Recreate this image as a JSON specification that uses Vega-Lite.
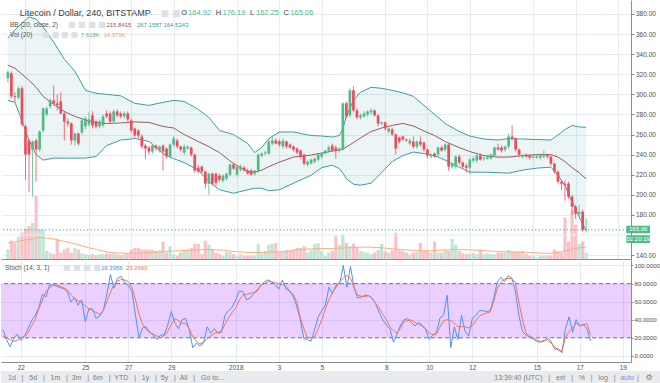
{
"$schema":"https://vega.github.io/schema/vega-lite/v6.json",
"padding":0,"spacing":0,"background":"white",
"config":{"font":"Liberation Sans","view":{"stroke":null},
"axis":{"labelFont":"Liberation Sans","labelFontSize":6.5,"labelColor":"#4d4d4d","gridColor":"#e6edf2","domainColor":"#8c8c8c","tickColor":"#8c8c8c","title":null,"labelOverlap":false,"tickCount":30},
"text":{"font":"Liberation Sans","fontSize":6.2,"align":"left","baseline":"middle"}},
"datasets":{
"c":[
{"i":0,"o":316,"h":324,"l":312,"c":322,"v":12,"k":29,"d":22},
{"i":1,"o":321,"h":323,"l":296,"c":298,"v":23,"k":18,"d":20},
{"i":2,"o":298,"h":302,"l":292,"c":297,"v":20,"k":10,"d":18},
{"i":3,"o":297,"h":308,"l":295,"c":306,"v":28,"k":19,"d":16},
{"i":4,"o":306,"h":308,"l":268,"c":270,"v":33,"k":24,"d":17},
{"i":5,"o":268,"h":270,"l":215,"c":240,"v":38,"k":17,"d":20},
{"i":6,"o":254,"h":256,"l":203,"c":240,"v":41,"k":21.5,"d":22},
{"i":7,"o":245,"h":254,"l":198,"c":253,"v":45,"k":30,"d":25},
{"i":8,"o":254,"h":256,"l":213,"c":245,"v":79,"k":39,"d":33},
{"i":9,"o":245,"h":264,"l":243,"c":263,"v":37,"k":45,"d":40},
{"i":10,"o":264,"h":287,"l":262,"c":286,"v":37,"k":53,"d":52},
{"i":11,"o":280,"h":288,"l":278,"c":286,"v":10,"k":68,"d":61},
{"i":12,"o":288,"h":296,"l":286,"c":294,"v":8,"k":65,"d":71},
{"i":13,"o":294,"h":309,"l":289,"c":291,"v":6,"k":78.5,"d":75},
{"i":14,"o":291,"h":300,"l":284,"c":289,"v":25,"k":78.5,"d":78},
{"i":15,"o":293,"h":302,"l":280,"c":281,"v":8,"k":77,"d":78.5},
{"i":16,"o":281,"h":283,"l":254,"c":273,"v":12,"k":75.5,"d":77},
{"i":17,"o":273,"h":276,"l":268,"c":271,"v":14,"k":74.5,"d":75},
{"i":18,"o":271,"h":272,"l":250,"c":254,"v":8,"k":71,"d":72.5},
{"i":19,"o":254,"h":262,"l":249,"c":261,"v":14,"k":59.6,"d":68},
{"i":20,"o":261,"h":262,"l":249,"c":251,"v":12,"k":64.5,"d":63},
{"i":21,"o":262,"h":276,"l":260,"c":274,"v":7,"k":56,"d":61},
{"i":22,"o":268,"h":278,"l":265,"c":276,"v":6,"k":62,"d":59},
{"i":23,"o":270,"h":282,"l":268,"c":275,"v":5,"k":38,"d":55},
{"i":24,"o":279,"h":283,"l":266,"c":269,"v":6,"k":52,"d":52},
{"i":25,"o":273,"h":275,"l":266,"c":268,"v":5,"k":52,"d":50},
{"i":26,"o":268,"h":275,"l":266,"c":273,"v":6,"k":41.5,"d":48},
{"i":27,"o":269,"h":280,"l":267,"c":278,"v":6,"k":44,"d":46},
{"i":28,"o":281,"h":284,"l":276,"c":278,"v":7,"k":50,"d":50},
{"i":29,"o":281,"h":283,"l":271,"c":273,"v":6,"k":68,"d":60},
{"i":30,"o":273,"h":285,"l":272,"c":283,"v":7,"k":90,"d":70},
{"i":31,"o":283,"h":285,"l":277,"c":279,"v":6,"k":75,"d":79},
{"i":32,"o":281,"h":283,"l":276,"c":278,"v":5,"k":86,"d":83},
{"i":33,"o":278,"h":283,"l":276,"c":281,"v":6,"k":88,"d":84.4},
{"i":34,"o":281,"h":283,"l":273,"c":275,"v":7,"k":81,"d":84},
{"i":35,"o":274,"h":276,"l":262,"c":264,"v":12,"k":78,"d":82},
{"i":36,"o":266,"h":267,"l":257,"c":259,"v":14,"k":72,"d":76},
{"i":37,"o":264,"h":265,"l":256,"c":259,"v":14,"k":45,"d":62},
{"i":38,"o":258,"h":260,"l":246,"c":248,"v":12,"k":20,"d":46},
{"i":39,"o":249,"h":251,"l":236,"c":246,"v":12,"k":31,"d":35},
{"i":40,"o":247,"h":249,"l":240,"c":243,"v":12,"k":32,"d":29},
{"i":41,"o":243,"h":251,"l":241,"c":249,"v":12,"k":26,"d":26},
{"i":42,"o":249,"h":250,"l":244,"c":246,"v":10,"k":23,"d":24},
{"i":43,"o":244,"h":249,"l":242,"c":248,"v":11,"k":18,"d":22},
{"i":44,"o":249,"h":250,"l":224,"c":243,"v":22,"k":23,"d":20},
{"i":45,"o":246,"h":247,"l":236,"c":238,"v":8,"k":23,"d":22},
{"i":46,"o":238,"h":251,"l":236,"c":250,"v":16,"k":34,"d":27},
{"i":47,"o":250,"h":258,"l":248,"c":256,"v":6,"k":49,"d":35},
{"i":48,"o":254,"h":256,"l":246,"c":248,"v":4,"k":36,"d":41},
{"i":49,"o":248,"h":249,"l":243,"c":245,"v":8,"k":30,"d":39},
{"i":50,"o":242,"h":250,"l":240,"c":248,"v":10,"k":40,"d":36},
{"i":51,"o":246,"h":249,"l":245,"c":248,"v":12,"k":41.5,"d":36},
{"i":52,"o":247,"h":248,"l":238,"c":240,"v":14,"k":29,"d":30},
{"i":53,"o":240,"h":241,"l":222,"c":224,"v":19,"k":9,"d":21},
{"i":54,"o":227,"h":230,"l":221,"c":223,"v":19,"k":14,"d":16},
{"i":55,"o":228,"h":229,"l":221,"c":223,"v":6,"k":11,"d":13},
{"i":56,"o":223,"h":224,"l":206,"c":211,"v":23,"k":14,"d":15},
{"i":57,"o":211,"h":222,"l":200,"c":221,"v":18,"k":32,"d":19},
{"i":58,"o":221,"h":222,"l":209,"c":211,"v":12,"k":25,"d":22},
{"i":59,"o":221,"h":222,"l":209,"c":212,"v":8,"k":30,"d":25},
{"i":60,"o":219,"h":221,"l":213,"c":215,"v":6,"k":25,"d":26},
{"i":61,"o":214,"h":220,"l":212,"c":219,"v":4,"k":26,"d":27},
{"i":62,"o":216,"h":222,"l":214,"c":221,"v":9,"k":45,"d":35},
{"i":63,"o":220,"h":231,"l":218,"c":230,"v":9,"k":50,"d":42},
{"i":64,"o":230,"h":232,"l":225,"c":226,"v":6,"k":54,"d":48},
{"i":65,"o":220,"h":229,"l":218,"c":228,"v":4,"k":62,"d":53},
{"i":66,"o":225,"h":230,"l":223,"c":228,"v":6,"k":72,"d":62},
{"i":67,"o":227,"h":229,"l":223,"c":224,"v":4,"k":71,"d":67},
{"i":68,"o":224,"h":226,"l":220,"c":221,"v":4,"k":62,"d":68},
{"i":69,"o":224,"h":226,"l":219,"c":220,"v":4,"k":64,"d":69},
{"i":70,"o":221,"h":225,"l":219,"c":224,"v":4,"k":69,"d":70},
{"i":71,"o":224,"h":241,"l":222,"c":240,"v":19,"k":72,"d":73},
{"i":72,"o":239,"h":242,"l":237,"c":241,"v":8,"k":78,"d":78},
{"i":73,"o":241,"h":244,"l":239,"c":242,"v":10,"k":82,"d":80},
{"i":74,"o":241,"h":255,"l":240,"c":253,"v":18,"k":84,"d":82},
{"i":75,"o":251,"h":258,"l":249,"c":254,"v":19,"k":82,"d":82},
{"i":76,"o":254,"h":256,"l":250,"c":251,"v":20,"k":78.5,"d":81},
{"i":77,"o":253,"h":255,"l":248,"c":250,"v":9,"k":74,"d":80},
{"i":78,"o":248,"h":256,"l":246,"c":254,"v":10,"k":84,"d":79},
{"i":79,"o":253,"h":254,"l":246,"c":248,"v":11,"k":74,"d":77},
{"i":80,"o":250,"h":251,"l":246,"c":247,"v":10,"k":71.5,"d":72},
{"i":81,"o":248,"h":249,"l":243,"c":245,"v":12,"k":66,"d":68},
{"i":82,"o":246,"h":247,"l":240,"c":242,"v":14,"k":55,"d":60},
{"i":83,"o":244,"h":245,"l":236,"c":238,"v":14,"k":40,"d":42},
{"i":84,"o":240,"h":241,"l":229,"c":231,"v":16,"k":19,"d":30},
{"i":85,"o":230,"h":234,"l":228,"c":233,"v":8,"k":18,"d":20},
{"i":86,"o":231,"h":236,"l":230,"c":235,"v":11,"k":16,"d":20},
{"i":87,"o":233,"h":237,"l":231,"c":236,"v":19,"k":29,"d":21},
{"i":88,"o":235,"h":241,"l":233,"c":240,"v":20,"k":43,"d":30},
{"i":89,"o":238,"h":242,"l":236,"c":241,"v":10,"k":50,"d":40},
{"i":90,"o":241,"h":245,"l":240,"c":244,"v":4,"k":56,"d":52},
{"i":91,"o":244,"h":249,"l":242,"c":247,"v":8,"k":76,"d":62},
{"i":92,"o":249,"h":251,"l":243,"c":244,"v":10,"k":69,"d":70},
{"i":93,"o":247,"h":249,"l":236,"c":244,"v":29,"k":78,"d":76},
{"i":94,"o":244,"h":247,"l":242,"c":246,"v":18,"k":80,"d":82},
{"i":95,"o":245,"h":292,"l":244,"c":291,"v":31,"k":100,"d":86},
{"i":96,"o":291,"h":293,"l":276,"c":278,"v":20,"k":76,"d":89},
{"i":97,"o":279,"h":306,"l":277,"c":304,"v":16,"k":99,"d":86},
{"i":98,"o":304,"h":308,"l":282,"c":284,"v":19,"k":76,"d":75},
{"i":99,"o":284,"h":286,"l":275,"c":277,"v":14,"k":64,"d":67},
{"i":100,"o":277,"h":281,"l":275,"c":279,"v":10,"k":65,"d":66},
{"i":101,"o":278,"h":283,"l":277,"c":281,"v":9,"k":67,"d":65.5},
{"i":102,"o":280,"h":284,"l":278,"c":283,"v":8,"k":66.9,"d":66.5},
{"i":103,"o":282,"h":286,"l":280,"c":284,"v":6,"k":64,"d":64},
{"i":104,"o":284,"h":285,"l":278,"c":279,"v":8,"k":58,"d":58},
{"i":105,"o":279,"h":280,"l":268,"c":271,"v":11,"k":48,"d":53},
{"i":106,"o":271,"h":273,"l":269,"c":272,"v":19,"k":40,"d":46},
{"i":107,"o":272,"h":273,"l":264,"c":266,"v":10,"k":34,"d":40},
{"i":108,"o":263,"h":267,"l":261,"c":266,"v":8,"k":30,"d":32},
{"i":109,"o":265,"h":267,"l":259,"c":260,"v":11,"k":15,"d":28},
{"i":110,"o":260,"h":261,"l":240,"c":246,"v":33,"k":24,"d":25},
{"i":111,"o":257,"h":258,"l":251,"c":253,"v":12,"k":34,"d":31},
{"i":112,"o":258,"h":259,"l":254,"c":255,"v":10,"k":40,"d":37.8},
{"i":113,"o":255,"h":256,"l":253,"c":254,"v":8,"k":41,"d":39},
{"i":114,"o":251,"h":256,"l":249,"c":254,"v":6,"k":37,"d":39.6},
{"i":115,"o":253,"h":258,"l":246,"c":248,"v":8,"k":33,"d":37},
{"i":116,"o":248,"h":254,"l":246,"c":253,"v":9,"k":37,"d":35},
{"i":117,"o":253,"h":258,"l":248,"c":250,"v":20,"k":34,"d":33},
{"i":118,"o":252,"h":253,"l":243,"c":245,"v":11,"k":29,"d":30},
{"i":119,"o":245,"h":246,"l":236,"c":239,"v":10,"k":18,"d":25},
{"i":120,"o":238,"h":241,"l":236,"c":240,"v":8,"k":23,"d":23.5},
{"i":121,"o":241,"h":242,"l":237,"c":238,"v":22,"k":26,"d":24},
{"i":122,"o":240,"h":248,"l":238,"c":247,"v":8,"k":42,"d":32},
{"i":123,"o":247,"h":249,"l":243,"c":244,"v":8,"k":45,"d":39},
{"i":124,"o":245,"h":251,"l":243,"c":250,"v":12,"k":67,"d":40},
{"i":125,"o":250,"h":251,"l":224,"c":228,"v":10,"k":9,"d":39},
{"i":126,"o":228,"h":232,"l":226,"c":231,"v":25,"k":32,"d":36},
{"i":127,"o":228,"h":239,"l":226,"c":238,"v":18,"k":18,"d":32.4},
{"i":128,"o":238,"h":240,"l":230,"c":232,"v":10,"k":45,"d":32.4},
{"i":129,"o":232,"h":233,"l":226,"c":228,"v":7,"k":27,"d":32},
{"i":130,"o":229,"h":231,"l":222,"c":227,"v":6,"k":22,"d":31},
{"i":131,"o":227,"h":237,"l":220,"c":235,"v":7,"k":41,"d":33},
{"i":132,"o":234,"h":238,"l":232,"c":236,"v":8,"k":45,"d":39},
{"i":133,"o":234,"h":240,"l":232,"c":239,"v":6,"k":50,"d":44},
{"i":134,"o":239,"h":241,"l":234,"c":235,"v":12,"k":50,"d":46},
{"i":135,"o":236,"h":238,"l":234,"c":237,"v":6,"k":49,"d":47.5},
{"i":136,"o":236,"h":239,"l":235,"c":238,"v":7,"k":50,"d":48.5},
{"i":137,"o":236,"h":241,"l":235,"c":240,"v":6,"k":64,"d":60},
{"i":138,"o":239,"h":248,"l":238,"c":247,"v":6,"k":82,"d":75},
{"i":139,"o":247,"h":251,"l":244,"c":245,"v":8,"k":87,"d":81},
{"i":140,"o":247,"h":249,"l":242,"c":244,"v":8,"k":82,"d":85},
{"i":141,"o":245,"h":249,"l":243,"c":248,"v":8,"k":88.7,"d":85.5},
{"i":142,"o":248,"h":261,"l":246,"c":258,"v":11,"k":86,"d":86},
{"i":143,"o":258,"h":269,"l":254,"c":256,"v":9,"k":72,"d":81},
{"i":144,"o":256,"h":257,"l":243,"c":245,"v":9,"k":45,"d":60},
{"i":145,"o":245,"h":246,"l":238,"c":240,"v":9,"k":27,"d":40},
{"i":146,"o":238,"h":241,"l":236,"c":239,"v":10,"k":23,"d":25},
{"i":147,"o":240,"h":241,"l":237,"c":238,"v":6,"k":20.5,"d":22},
{"i":148,"o":239,"h":240,"l":235,"c":237,"v":4,"k":18.5,"d":20},
{"i":149,"o":237,"h":240,"l":236,"c":238,"v":4,"k":16,"d":17.5},
{"i":150,"o":237,"h":240,"l":236,"c":238.5,"v":2,"k":15,"d":16},
{"i":151,"o":237,"h":241,"l":235,"c":239,"v":4,"k":16,"d":17},
{"i":152,"o":238,"h":244,"l":236,"c":240,"v":4,"k":19.7,"d":17.8},
{"i":153,"o":240,"h":241,"l":236,"c":238,"v":4,"k":16,"d":14},
{"i":154,"o":238,"h":239,"l":229,"c":231,"v":4,"k":7,"d":10},
{"i":155,"o":231,"h":232,"l":221,"c":223,"v":12,"k":8,"d":6},
{"i":156,"o":223,"h":224,"l":211,"c":213,"v":10,"k":3.3,"d":5},
{"i":157,"o":213,"h":215,"l":205,"c":211,"v":8,"k":30,"d":20},
{"i":158,"o":211,"h":214,"l":194,"c":210,"v":52,"k":43,"d":27},
{"i":159,"o":211,"h":213,"l":196,"c":198,"v":22,"k":26,"d":31},
{"i":160,"o":198,"h":200,"l":180,"c":188,"v":61,"k":40,"d":36},
{"i":161,"o":188,"h":190,"l":176,"c":181,"v":43,"k":33,"d":33},
{"i":162,"o":181,"h":190,"l":178,"c":183,"v":19,"k":35,"d":34},
{"i":163,"o":183,"h":185,"l":163,"c":165,"v":22,"k":30,"d":36},
{"i":164,"o":164.92,"h":176.19,"l":162.25,"c":165.06,"v":7.618,"k":16.3956,"d":23.266}
],
"bb":[
{"i":0,"u":356,"m":329,"lo":294},{"i":2,"u":364,"m":326,"lo":292},{"i":4,"u":371,"m":320,"lo":274},{"i":6,"u":377,"m":314,"lo":254},
{"i":8,"u":375,"m":307,"lo":240},{"i":10,"u":367,"m":298,"lo":234.5},{"i":13,"u":352,"m":290,"lo":236.5},{"i":16,"u":335,"m":283,"lo":236.5},
{"i":19,"u":323,"m":278,"lo":236.5},{"i":22,"u":304,"m":274.5,"lo":236.5},{"i":25,"u":301,"m":272,"lo":238},{"i":28,"u":300,"m":271,"lo":249},
{"i":32,"u":298.5,"m":271.5,"lo":254.5},{"i":36,"u":291,"m":272.5,"lo":256},{"i":40,"u":289,"m":272,"lo":253},{"i":44,"u":292,"m":268,"lo":241},
{"i":47,"u":294,"m":266.5,"lo":236},{"i":50,"u":293,"m":260,"lo":232},{"i":54,"u":285,"m":253,"lo":224.5},{"i":57,"u":277,"m":248,"lo":213},
{"i":60,"u":264,"m":242,"lo":205},{"i":64,"u":260,"m":231,"lo":201.5},{"i":68,"u":251,"m":223.5,"lo":205},{"i":70,"u":242,"m":222.5,"lo":206.5},
{"i":72,"u":247,"m":224.5,"lo":206.5},{"i":74,"u":256,"m":228,"lo":204},{"i":77,"u":262.5,"m":232.5,"lo":205},{"i":81,"u":262.5,"m":237.5,"lo":211.5},
{"i":86,"u":259,"m":239.5,"lo":219.5},{"i":89,"u":258.5,"m":241.5,"lo":227},{"i":92,"u":257.5,"m":243.5,"lo":229.5},{"i":94,"u":259,"m":244.5,"lo":226},
{"i":95,"u":266,"m":245.5,"lo":221.5},{"i":96,"u":278,"m":247.5,"lo":216},{"i":98,"u":294,"m":252,"lo":210.5},{"i":100,"u":302,"m":256.5,"lo":209.5},
{"i":103,"u":307,"m":263,"lo":211.5},{"i":106,"u":306,"m":266.5,"lo":222},{"i":109,"u":304,"m":269,"lo":233},{"i":112,"u":301.5,"m":271,"lo":239},
{"i":115,"u":298,"m":268.5,"lo":242.5},{"i":118,"u":289,"m":263.5,"lo":241},{"i":121,"u":280,"m":259,"lo":239},{"i":124,"u":271,"m":253,"lo":234.5},
{"i":128,"u":263,"m":247,"lo":227.5},{"i":131,"u":258.5,"m":243,"lo":222.5},{"i":135,"u":255.5,"m":239,"lo":222.5},{"i":139,"u":254.5,"m":237.5,"lo":222},
{"i":142,"u":256,"m":237.5,"lo":221.5},{"i":146,"u":255.5,"m":239,"lo":224.5},{"i":150,"u":255,"m":240,"lo":226.5},{"i":154,"u":254.5,"m":240,"lo":227.5},
{"i":156,"u":259.5,"m":237.5,"lo":219.5},{"i":158,"u":265,"m":233,"lo":209},{"i":160,"u":269,"m":227,"lo":193},{"i":162,"u":267.5,"m":222,"lo":178},
{"i":164,"u":267.16,"m":215.84,"lo":164.52}
],
"vma":[
{"i":0,"vm":20},{"i":4,"vm":23},{"i":9,"vm":27},{"i":13,"vm":25},{"i":18,"vm":20},{"i":23,"vm":14},{"i":29,"vm":8},{"i":35,"vm":7},
{"i":41,"vm":8},{"i":47,"vm":10},{"i":52,"vm":11},{"i":57,"vm":12},{"i":61,"vm":11},{"i":65,"vm":9},{"i":69,"vm":8},{"i":74,"vm":8.5},
{"i":78,"vm":9},{"i":83,"vm":12},{"i":88,"vm":13},{"i":92,"vm":13},{"i":96,"vm":14},{"i":102,"vm":15},{"i":106,"vm":14},{"i":111,"vm":12},
{"i":118,"vm":10},{"i":123,"vm":11},{"i":128,"vm":12},{"i":133,"vm":11},{"i":138,"vm":9.5},{"i":143,"vm":9},{"i":148,"vm":8},{"i":153,"vm":7},
{"i":156,"vm":8},{"i":159,"vm":11.5},{"i":162,"vm":14},{"i":164,"vm":14.979}
]},
"vconcat":[
{"width":630,"height":259,
"layer":[
 {"layer":[
  {"data":{"name":"c"},"mark":{"type":"bar","size":3.2},
   "encoding":{"x":{"field":"i","type":"quantitative","scale":{"domain":[-0.53,175.3],"nice":false,"zero":false},
     "axis":{"orient":"bottom","values":[5,23,35,47,65,77,89,107,119,131,149,161,173],"labels":false,"ticks":false,"domain":true,"grid":true,"title":null}},
    "y":{"field":"v","type":"quantitative","scale":{"domain":[0,324],"nice":false},"axis":null},
    "color":{"condition":{"test":"datum.c >= datum.o","value":"#c3e5d3"},"value":"#f8c3c8"}}},
  {"data":{"name":"vma"},"mark":{"type":"line","color":"#f8b07e","strokeWidth":1},
   "encoding":{"x":{"field":"i","type":"quantitative"},"y":{"field":"vm","type":"quantitative"}}}
 ]},
 {"layer":[
  {"data":{"name":"bb"},"mark":{"type":"area","color":"#3c9ea2","opacity":0.1},
   "encoding":{"x":{"field":"i","type":"quantitative"},
    "y":{"field":"u","type":"quantitative","scale":{"domain":[136.02,393.94],"nice":false,"zero":false},
     "axis":{"orient":"right","values":[140,180,200,220,240,260,280,300,320,340,360,380],"format":".2f","grid":true,"tickSize":3,"labelPadding":1.5,"domain":true,"title":null,"labelOverlap":false,"tickCount":30}},
    "y2":{"field":"lo"}}},
  {"data":{"values":[{}]},"mark":{"type":"rule","color":"#e6edf2","strokeWidth":1},"encoding":{"y":{"datum":160}}},
  {"data":{"name":"bb"},"mark":{"type":"line","color":"#3c9ea2","strokeWidth":1},"encoding":{"x":{"field":"i","type":"quantitative"},"y":{"field":"u","type":"quantitative"}}},
  {"data":{"name":"bb"},"mark":{"type":"line","color":"#3c9ea2","strokeWidth":1},"encoding":{"x":{"field":"i","type":"quantitative"},"y":{"field":"lo","type":"quantitative"}}},
  {"data":{"name":"bb"},"mark":{"type":"line","color":"#9c5a5a","strokeWidth":1},"encoding":{"x":{"field":"i","type":"quantitative"},"y":{"field":"m","type":"quantitative"}}},
  {"data":{"name":"c"},"mark":{"type":"rule","strokeWidth":1,"opacity":0.8},
   "encoding":{"x":{"field":"i","type":"quantitative"},"y":{"field":"l","type":"quantitative"},"y2":{"field":"h"},
    "color":{"condition":{"test":"datum.c >= datum.o","value":"#53b987"},"value":"#eb4d5c"}}},
  {"data":{"name":"c"},"mark":{"type":"bar","size":2.7},
   "encoding":{"x":{"field":"i","type":"quantitative"},"y":{"field":"o","type":"quantitative"},"y2":{"field":"c"},
    "color":{"condition":{"test":"datum.c >= datum.o","value":"#53b987"},"value":"#eb4d5c"}}},
  {"data":{"values":[{}]},"mark":{"type":"rule","color":"#53b987","strokeDash":[1.5,2],"strokeWidth":1},"encoding":{"y":{"datum":165.06}}},
  {"data":{"values":[{}]},"mark":{"type":"text","fontSize":9,"color":"#3d3d3d"},"encoding":{"x":{"datum":3.38},"y":{"datum":381},"text":{"value":"Litecoin / Dollar, 240, BITSTAMP"}}},
  {"data":{"values":[{}]},"mark":{"type":"text","fontSize":9,"color":"#dde0e4","font":"DejaVu Sans"},"encoding":{"x":{"datum":43.3},"y":{"datum":381},"text":{"value":"■\u00a0■"}}},
  {"data":{"values":[{}]},"mark":{"type":"text","fontSize":7.5,"color":"#3d3d3d"},"encoding":{"x":{"datum":49.15},"y":{"datum":381},"text":{"value":"O"}}},
  {"data":{"values":[{}]},"mark":{"type":"text","fontSize":7.5,"color":"#53b987"},"encoding":{"x":{"datum":51.1},"y":{"datum":381},"text":{"value":"164.92"}}},
  {"data":{"values":[{}]},"mark":{"type":"text","fontSize":7.5,"color":"#3d3d3d"},"encoding":{"x":{"datum":58.92},"y":{"datum":381},"text":{"value":"H"}}},
  {"data":{"values":[{}]},"mark":{"type":"text","fontSize":7.5,"color":"#53b987"},"encoding":{"x":{"datum":60.87},"y":{"datum":381},"text":{"value":"176.19"}}},
  {"data":{"values":[{}]},"mark":{"type":"text","fontSize":7.5,"color":"#3d3d3d"},"encoding":{"x":{"datum":68.69},"y":{"datum":381},"text":{"value":"L"}}},
  {"data":{"values":[{}]},"mark":{"type":"text","fontSize":7.5,"color":"#53b987"},"encoding":{"x":{"datum":70.36},"y":{"datum":381},"text":{"value":"162.25"}}},
  {"data":{"values":[{}]},"mark":{"type":"text","fontSize":7.5,"color":"#3d3d3d"},"encoding":{"x":{"datum":78.17},"y":{"datum":381},"text":{"value":"C"}}},
  {"data":{"values":[{}]},"mark":{"type":"text","fontSize":7.5,"color":"#53b987"},"encoding":{"x":{"datum":80.13},"y":{"datum":381},"text":{"value":"165.06"}}},
  {"data":{"values":[{}]},"mark":{"type":"text","color":"#555555","fontSize":6.5},"encoding":{"x":{"datum":0.59},"y":{"datum":369.5},"text":{"value":"BB (20, close, 2)"}}},
  {"data":{"values":[{}]},"mark":{"type":"text","fontSize":8,"color":"#dde0e4","font":"DejaVu Sans"},"encoding":{"x":{"datum":17.05},"y":{"datum":369.5},"text":{"value":"■\u00a0■\u00a0■\u00a0■"}}},
  {"data":{"values":[{}]},"mark":{"type":"text","color":"#a04f52","fontSize":6},"encoding":{"x":{"datum":27.94},"y":{"datum":369.5},"text":{"value":"215.8415"}}},
  {"data":{"values":[{}]},"mark":{"type":"text","color":"#3c9a9d","fontSize":6},"encoding":{"x":{"datum":36.59},"y":{"datum":369.5},"text":{"value":"267.1587"}}},
  {"data":{"values":[{}]},"mark":{"type":"text","color":"#3c9a9d","fontSize":6},"encoding":{"x":{"datum":44.12},"y":{"datum":369.5},"text":{"value":"164.5243"}}},
  {"data":{"values":[{}]},"mark":{"type":"text","color":"#555555","fontSize":6.5},"encoding":{"x":{"datum":0.59},"y":{"datum":358.6},"text":{"value":"Vol (20)"}}},
  {"data":{"values":[{}]},"mark":{"type":"text","fontSize":7.5,"color":"#dde0e4","font":"DejaVu Sans"},"encoding":{"x":{"datum":9.8},"y":{"datum":358.6},"text":{"value":"■\u00a0■\u00a0■\u00a0■"}}},
  {"data":{"values":[{}]},"mark":{"type":"text","color":"#53b987","fontSize":6},"encoding":{"x":{"datum":20.68},"y":{"datum":358.6},"text":{"value":"7.618K"}}},
  {"data":{"values":[{}]},"mark":{"type":"text","color":"#f4a164","fontSize":6},"encoding":{"x":{"datum":27.1},"y":{"datum":358.6},"text":{"value":"14.979K"}}},
  {"data":{"values":[{}]},"mark":{"type":"rect","color":"#53b987"},"encoding":{"x":{"datum":175.4},"x2":{"datum":182.1},"y":{"datum":169.2},"y2":{"datum":161.6}}},
  {"data":{"values":[{}]},"mark":{"type":"rect","color":"#53b987"},"encoding":{"x":{"datum":175.4},"x2":{"datum":182.1},"y":{"datum":159.6},"y2":{"datum":151.95}}},
  {"data":{"values":[{}]},"mark":{"type":"text","color":"white","align":"center","fontSize":6},"encoding":{"x":{"datum":178.75},"y":{"datum":165.4},"text":{"value":"165.06"}}},
  {"data":{"values":[{}]},"mark":{"type":"text","color":"white","align":"center","fontSize":6},"encoding":{"x":{"datum":178.75},"y":{"datum":155.8},"text":{"value":"02:20:19"}}}
 ]}
],
"resolve":{"scale":{"y":"independent"}}},
{"width":630,"height":103,
"layer":[
 {"data":{"values":[{}]},"mark":{"type":"rect","color":"#9915ff","opacity":0.2},
  "encoding":{"x":{"datum":-0.53,"type":"quantitative","scale":{"domain":[-0.53,175.3],"nice":false,"zero":false},
    "axis":{"orient":"bottom","values":[5,23,35,47,65,77,89,107,119,131,149,161,173],"labelExpr":"['22','25','27','29','2018','3','5','8','10','12','15','17','19'][indexof([5,23,35,47,65,77,89,107,119,131,149,161,173], datum.value)]","grid":true,"ticks":false,"domain":true,"labelPadding":2,"title":null,"labelOverlap":false,"tickCount":30}},
   "x2":{"datum":175.3},
   "y":{"datum":80,"type":"quantitative","scale":{"domain":[-6.9,107.2],"nice":false,"zero":false},
    "axis":{"orient":"right","values":[0,20,40,60,80,100],"format":".4f","grid":true,"tickSize":2,"labelPadding":1,"labelFontSize":6.1,"domain":true,"title":null,"labelOverlap":false,"tickCount":30}},
   "y2":{"datum":20}}},
 {"data":{"values":[{"lv":20},{"lv":80}]},"mark":{"type":"rule","color":"#7f7f7f","strokeDash":[4,3],"strokeWidth":1},"encoding":{"y":{"field":"lv","type":"quantitative"}}},
 {"data":{"name":"c"},"mark":{"type":"line","color":"#4d94f5","strokeWidth":1},"encoding":{"x":{"field":"i","type":"quantitative"},"y":{"field":"k","type":"quantitative"}}},
 {"data":{"name":"c"},"mark":{"type":"line","color":"#f2784b","strokeWidth":1},"encoding":{"x":{"field":"i","type":"quantitative"},"y":{"field":"d","type":"quantitative"}}},
 {"data":{"values":[{}]},"mark":{"type":"text","color":"#555555","fontSize":6.5},"encoding":{"x":{"datum":0.59},"y":{"datum":97.2},"text":{"value":"Stoch (14, 3, 1)"}}},
 {"data":{"values":[{}]},"mark":{"type":"text","fontSize":8,"color":"#dde0e4","font":"DejaVu Sans"},"encoding":{"x":{"datum":16.77},"y":{"datum":97.2},"text":{"value":"■\u00a0■\u00a0■\u00a0■"}}},
 {"data":{"values":[{}]},"mark":{"type":"text","color":"#3d8fe8","fontSize":6},"encoding":{"x":{"datum":27.38},"y":{"datum":97.2},"text":{"value":"16.3956"}}},
 {"data":{"values":[{}]},"mark":{"type":"text","color":"#f07a4a","fontSize":6},"encoding":{"x":{"datum":34.36},"y":{"datum":97.2},"text":{"value":"23.2660"}}}
]},
{"width":660,"height":14,"view":{"fill":"#e9ebee","stroke":null},
"layer":[
 {"data":{"values":[{}]},"mark":{"type":"text","fontSize":7,"color":"#7b7e86"},
  "encoding":{"x":{"datum":7,"type":"quantitative","scale":{"domain":[0,660],"nice":false,"zero":false},"axis":null},
   "y":{"datum":0.5,"type":"quantitative","scale":{"domain":[0,1],"nice":false},"axis":null},
   "text":{"value":"1d\u00a0\u00a0\u00a0|\u00a0\u00a0\u00a05d\u00a0\u00a0\u00a0|\u00a0\u00a0\u00a01m\u00a0\u00a0\u00a0|\u00a0\u00a03m\u00a0\u00a0\u00a0|\u00a0\u00a06m\u00a0\u00a0\u00a0|\u00a0\u00a0YTD\u00a0\u00a0\u00a0|\u00a0\u00a0\u00a01y\u00a0\u00a0\u00a0|\u00a0\u00a05y\u00a0\u00a0\u00a0|\u00a0\u00a0All\u00a0\u00a0\u00a0|\u00a0\u00a0\u00a0Go to..."}}},
 {"data":{"values":[{}]},"mark":{"type":"text","fontSize":7,"color":"#7b7e86","align":"right"},
  "encoding":{"x":{"datum":614.5},"y":{"datum":0.5},"text":{"value":"13:39:40 (UTC)\u00a0\u00a0\u00a0|\u00a0\u00a0\u00a0ext\u00a0\u00a0\u00a0|\u00a0\u00a0\u00a0%\u00a0\u00a0\u00a0|\u00a0\u00a0\u00a0log\u00a0\u00a0\u00a0|"}}},
 {"data":{"values":[{}]},"mark":{"type":"text","fontSize":7,"color":"#4ea6f0","align":"center"},
  "encoding":{"x":{"datum":626},"y":{"datum":0.5},"text":{"value":"auto"}}},
 {"data":{"values":[{}]},"mark":{"type":"text","fontSize":7,"color":"#7b7e86","align":"center"},
  "encoding":{"x":{"datum":637},"y":{"datum":0.5},"text":{"value":"|"}}},
 {"data":{"values":[{}]},"mark":{"type":"text","fontSize":8,"color":"#7b7e86","align":"center","font":"DejaVu Sans"},
  "encoding":{"x":{"datum":648},"y":{"datum":0.5},"text":{"value":"⚙"}}}
]}
]
}
